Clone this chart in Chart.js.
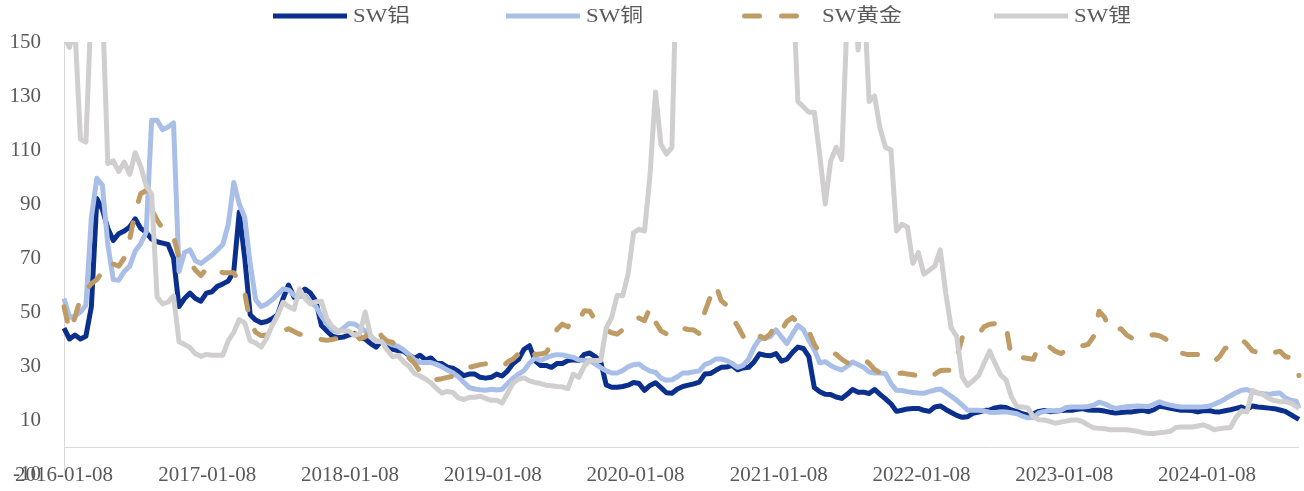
<!DOCTYPE html>
<html>
<head>
<meta charset="utf-8">
<script src="https://cdn.jsdelivr.net/npm/chart.js@4.4.1/dist/chart.umd.min.js"></script>
<style>
  html, body { margin: 0; padding: 0; background: #fff; }
  #wrap { position: relative; width: 1304px; height: 491px; overflow: hidden; }
  #chart { position: absolute; left: 0; top: 0; }
  #legend { position: absolute; left: 0; top: 0; width: 1304px; height: 32px; }
  .item { position: absolute; top: 6px; height: 20px; display: flex; align-items: center; white-space: nowrap; }
  .item svg { display: block; margin-right: 6px; }
  .item span { display: inline-block; font: 19px "Liberation Serif", "Noto Sans CJK SC", serif; color: #595959;
               line-height: 20px; transform: scaleX(1.2); transform-origin: left center; }
</style>
</head>
<body>
<div id="wrap">
  <canvas id="chart" width="1304" height="491"></canvas>
  <div id="legend"></div>
</div>
<script>
// Weekly valuation series sampled every two weeks from 2016-01-08, last point 2024-08-30
const dates = [];
for (let t = Date.UTC(2016, 0, 8); dates.length < 226; t += 14 * 864e5) {
  dates.push(new Date(t).toISOString().slice(0, 10));
}
dates.push('2024-08-30');

const seriesNames = ['SW铝', 'SW铜', 'SW黄金', 'SW锂'];

const aluminium = [
  44, 40, 41.5, 40, 41, 52, 92, 88, 81, 76.5,
  79, 80, 81.5, 84.5, 81, 79.5, 77, 76, 75.5, 75,
  70, 52, 55, 57, 55, 54, 57, 57.5, 59.5, 60.4,
  61.5, 65, 87, 70, 49, 47, 46, 46.5, 47.5, 49,
  55, 60, 55.5, 57, 58.5, 57, 54, 45, 43, 41,
  40.5, 40.7, 41.5, 42, 40.5, 40, 38.3, 37, 39.4, 37.5,
  36.2, 35.7, 35.5, 34, 32.8, 34, 32.3, 33, 31, 30.9,
  29.6, 29.2, 28, 26.4, 27, 27, 25.8, 25.5, 25.8, 27,
  26.3, 28.2, 30.9, 32.5, 36.2, 37.5, 32, 30.2, 30.2, 29.5,
  30.9, 30.9, 32, 32.3, 32, 34.3, 34.8, 33.5, 31.5, 23,
  22.1, 22.1, 22.4, 22.9, 23.9, 23.5, 21, 22.8, 23.8, 22,
  20.1, 19.9, 21.5, 22.4, 22.9, 23.4, 24, 27, 27.2, 28.4,
  29.5, 29.6, 30.2, 28.6, 29.3, 29.5, 31.5, 34.5, 34, 33.8,
  34.6, 31.8, 32.5, 35, 37, 36.5, 33.5, 22, 20.5, 19.5,
  19.4, 18.5, 18, 19.5, 21.3, 20.3, 20.3, 19.8, 21.3, 19.5,
  17.8, 16, 13.2, 13.6, 14.1, 14.3, 14.3, 13.6, 13.2, 14.8,
  15.2, 13.9, 12.8, 11.7, 11, 11.2, 12.5, 12.9, 13.5, 13.7,
  14.5, 14.8, 14.6, 13.7, 13.1, 12.3, 11.8, 12.3, 13.2, 13.5,
  13.1, 13.2, 13.5, 13.6, 13.6, 14, 14.2, 13.7, 13.6, 13.6,
  13.3, 12.9, 12.6, 12.8, 13, 13, 13.3, 13.6, 13.1, 13.8,
  15.1, 14.8, 14.3, 14, 13.6, 13.6, 13.5, 13, 13.4, 13.5,
  13.1, 13, 13.4, 13.8, 14.3, 14.8, 13.9, 15.2, 14.8, 14.6,
  14.4, 14.2, 13.7, 13.2, 12, 10.8, 10.2
];

const copper = [
  55, 48, 48.5, 50, 52.5, 85, 99.5, 97, 75, 62,
  61.8, 65, 67, 72.6, 75.3, 79.5, 121, 121, 117.5, 118.5,
  120, 65, 72, 73, 69, 68, 69.5, 71, 73, 75,
  82.5, 98, 90, 85, 67.8, 54.5, 52, 53, 54.5, 56.5,
  58.5, 58.2, 56.2, 55.7, 56, 53.7, 52, 48.5, 45.7, 43.3,
  42.6, 44, 45.7, 45.6, 44.3, 43, 41, 39.3, 39.1, 38.8,
  37.8, 37.3, 36, 34.2, 32.3, 31.3, 31.3, 31.3, 30.6, 29.7,
  28.5, 27.5, 26, 24, 22, 21.5, 21.2, 21, 21.4, 21.1,
  21.4, 23.5, 25.5, 27, 28.3, 31, 33, 32, 33, 33.8,
  34.2, 34.1, 33.6, 33.2, 32.2, 32, 32, 30.8, 29.4, 28.2,
  27.4, 27.4, 28.3, 29.7, 30.5, 30.7, 29.2, 28.1, 27.7, 25.5,
  24.7, 24.9, 26, 27.4, 27.4, 27.9, 28.2, 30.5, 31.3, 32.6,
  32.6, 32, 30.9, 29.5, 30.2, 32.5, 37, 40, 40.2, 41,
  43.4, 40.8, 38.3, 41.8, 45, 43.5, 39.5, 36, 31.2, 31.6,
  30.2, 29.2, 28.5, 29.9, 31.5, 30.5, 29.5, 27.8, 27.4, 27.4,
  27.2, 23.5, 21, 20.9, 20.5, 20.2, 20, 19.9, 20.5, 21.1,
  21.5, 20.2, 18.8, 17.3, 15.5, 13.6, 13.6, 13.6, 13.4, 12.9,
  12.8, 13, 13, 12.7, 12.3, 11.4, 10.8, 10.9, 12.6, 13.2,
  13.5, 13.3, 13.6, 14.6, 14.8, 14.8, 14.8, 15, 15.5, 16.6,
  16, 15, 14.3, 14.6, 14.9, 15.1, 15.2, 15.1, 15, 15.8,
  16.7, 16, 15.5, 15.1, 14.8, 14.8, 14.8, 14.8, 14.9, 15.1,
  15.8, 16.7, 17.8, 19, 20.1, 21, 21.3, 20.4, 20, 19.7,
  19.5, 19.8, 20, 18.2, 17.3, 17, 14.3
];

const gold = [
  52, 43, 48, 55, 58, 60.5, 62, 65, 68.5, 67.8,
  67, 70, 77, 87, 93.8, 95, 88, 84, 81, 80,
  78, 70, 69.5, 68.5, 65.5, 63.5, 66, 67, 66, 64.5,
  64.5, 64.5, 61, 57, 46, 42.5, 41.2, 41.5, 40.5, 41.5,
  43, 43.8, 42.8, 41.8, 41.8, 41.8, 40.8, 39.8, 39.5, 39.8,
  40.3, 40.5, 41.8, 42.5, 40, 40.8, 43, 44.5, 41, 39.3,
  38.7, 36.5, 34, 33, 31, 28, 26, 25, 25, 25.3,
  25.8, 26.2, 27.8, 28.8, 29.5, 30, 30.5, 30.8, 30.5, 29.9,
  29.5, 31.5, 32.6, 34.5, 36.5, 36.3, 34.3, 34.4, 34.9, 38,
  43.5, 45.5, 44.5, 47.6, 46.9, 50.5, 50.3, 47, 44.8, 43.2,
  42.3, 41.8, 43.4, 44.8, 47, 47.8, 46.8, 51.6, 46.3, 43,
  41.9, 43.5, 44.8, 44, 43.5, 43.3, 42, 50, 55.5, 60,
  54.2, 52.5, 48, 44.8, 41, 38.6, 39.8, 41.1, 40.2, 42,
  45.5, 43.2, 46.5, 48, 46, 44.5, 43, 38, 35, 34.5,
  35, 34.3, 32.5, 31.2, 31.5, 32.7, 32.7, 31, 28.7, 27.5,
  27, 26.8, 27.2, 27.4, 27, 26.8, 26.2, 25.8, 25.4, 27,
  28.3, 28.4, 28.4, 33, 40.5, 40.5, 41, 41.8, 44.5, 45.5,
  45.7, 44, 45, 33, 32.6, 33.1, 32.8, 32.5, 37.5, 38.2,
  37, 35.5, 34.6, 35.8, 37.4, 37.5, 37.5, 38, 41, 50.3,
  48, 43, 43.4, 43.8, 41.5, 40.3, 41.5, 41.8, 41.2, 41.6,
  41.2, 40.2, 38.5, 36.3, 34.8, 34.3, 34.3, 34.3, 34.2, 32.8,
  31.6, 33.5, 36.5, 37.3, 38.5, 40, 38, 35.6, 35, 34.1,
  33.8, 35, 35.5, 33.5, 33, 29, 26.5
];

const lithium = [
  152, 148, 155, 114, 113, 165, 170, 165, 105, 106,
  102, 105.5, 101, 109, 104, 96.8, 93.6, 55.5, 53, 53.7,
  56, 39, 38, 36.8, 34.5, 33.6, 34.3, 34, 34, 34,
  39.4, 42.5, 47.2, 46, 39.4, 38.5, 37, 40.3, 45, 48.8,
  53.6, 52, 51, 58.5, 55, 53, 53.8, 54, 47.5, 44.5,
  43.1, 43, 43, 41.3, 42, 50, 41, 39.2, 39, 36,
  33.4, 33.9, 31.5, 29.9, 27.2, 26.3, 25.2, 23.8, 21.7, 20,
  20.6, 20.2, 18.2, 17.6, 18.4, 18.4, 18.8, 18, 17.3, 17.3,
  16.3, 20, 23.7, 25.1, 25.6, 24.5, 23.9, 23.5, 22.9, 22.7,
  22.4, 22.3, 21.6, 27, 25.8, 30, 32, 32, 32, 44,
  48, 56.2, 56, 64, 79.4, 80.6, 80, 100.7, 131.5, 112,
  108.5, 111, 190, 200, 215, 230, 245, 260, 275, 285,
  290, 280, 270, 265, 255, 250, 240, 230, 220, 210,
  200, 195, 185, 175, 128, 126, 124, 124, 108, 90,
  106, 111, 106.5, 160, 180, 147, 170, 128, 130, 118,
  111, 110, 80, 82.5, 81.5, 68, 72, 64, 65.5, 67,
  73, 57, 44, 41, 26, 22.8, 24.6, 26.5, 31, 35.5,
  31, 26.7, 24.9, 18.5, 15, 14.8, 14.5, 11.2, 10.1, 10,
  9.5, 8.8, 9.2, 9.6, 10, 10, 9.4, 8.1, 7.1, 6.9,
  6.8, 6.4, 6.4, 6.4, 6.4, 6.1, 5.8, 5.3, 5, 5,
  5.3, 5.5, 5.8, 7.2, 7.4, 7.4, 7.4, 7.8, 8.2, 7.5,
  6.4, 6.8, 7, 7.2, 11, 13.4, 13, 21, 20, 19.4,
  18, 17.2, 16.8, 16.8, 16.3, 15, 14.3
];

const xTickLabels = ['2016-01-08', '2017-01-08', '2018-01-08', '2019-01-08', '2020-01-08',
                     '2021-01-08', '2022-01-08', '2023-01-08', '2024-01-08'];
const yTickValues = [-10, 10, 30, 50, 70, 90, 110, 130, 150];

// Styling of each line: colour and dash pattern
const styles = [
  { color: '#0B2F8C', dash: null },
  { color: '#A9BFE7', dash: null },
  { color: '#BF9C66', dash: [15, 22] },
  { color: '#D0CECE', dash: null }
];
const seriesValues = [aluminium, copper, gold, lithium];
const legendLeft = [273, 506, 742, 994];

const toPoints = vals => vals.map((v, i) => ({ x: Date.parse(dates[i]), y: v }));

const datasets = seriesValues.map((vals, k) => ({
  label: seriesNames[k],
  data: toPoints(vals),
  borderColor: styles[k].color,
  borderWidth: 5,
  borderDash: styles[k].dash || [],
  borderCapStyle: styles[k].dash ? 'round' : 'butt',
  borderJoinStyle: 'round',
  pointRadius: 0,
  pointHoverRadius: 0,
  tension: 0,
  fill: false,
  order: seriesValues.length - 1 - k,
  clip: { left: 3, right: 3, top: 0, bottom: 3 }
}));

const tickFont = { family: '"Liberation Serif", "Noto Sans CJK SC", serif', size: 21 };

new Chart(document.getElementById('chart').getContext('2d'), {
  type: 'line',
  data: { datasets },
  options: {
    responsive: false,
    animation: false,
    devicePixelRatio: 1,
    parsing: false,
    normalized: true,
    layout: { padding: { top: 42, right: 5, left: 0, bottom: 0 } },
    plugins: { legend: { display: false }, tooltip: { enabled: false } },
    events: [],
    scales: {
      x: {
        type: 'linear',
        min: Date.parse(dates[0]),
        max: Date.parse(dates[dates.length - 1]),
        afterBuildTicks: sc => { sc.ticks = xTickLabels.map(s => ({ value: Date.parse(s) })); },
        afterFit: sc => {
          sc.height = 17;
          sc.paddingLeft = 0; sc.paddingRight = 0; sc.paddingTop = 0; sc.paddingBottom = 0;
        },
        grid: { display: false, drawTicks: false },
        border: { display: false },
        ticks: {
          autoSkip: false, maxRotation: 0, minRotation: 0,
          mirror: true, padding: -14,
          color: '#595959', font: tickFont,
          callback: v => new Date(v).toISOString().slice(0, 10)
        }
      },
      y: {
        min: -10,
        max: 150,
        afterBuildTicks: sc => {
          sc.ticks = yTickValues.concat([0]).sort((a, b) => a - b).map(v => ({ value: v }));
        },
        afterFit: sc => {
          sc.width = 64;
          sc.paddingTop = 0; sc.paddingBottom = 0;
        },
        grid: {
          drawTicks: false,
          lineWidth: 1,
          color: c => (c.tick && c.tick.value === 0) ? '#D9D9D9' : 'rgba(0,0,0,0)'
        },
        border: { display: true, color: '#D9D9D9', width: 1 },
        ticks: {
          padding: 23, color: '#595959', font: tickFont,
          callback: v => (v === 0 ? '' : String(v))
        }
      }
    }
  }
});

// Legend row above the plot
const legend = document.getElementById('legend');
const svgNS = 'http://www.w3.org/2000/svg';
seriesNames.forEach((name, k) => {
  const item = document.createElement('div');
  item.className = 'item';
  item.style.left = legendLeft[k] + 'px';
  const svg = document.createElementNS(svgNS, 'svg');
  svg.setAttribute('width', '74');
  svg.setAttribute('height', '10');
  const line = document.createElementNS(svgNS, 'line');
  line.setAttribute('x1', styles[k].dash ? '2.5' : '0');
  line.setAttribute('x2', '74');
  line.setAttribute('y1', '5');
  line.setAttribute('y2', '5');
  line.setAttribute('stroke', styles[k].color);
  line.setAttribute('stroke-width', '5');
  if (styles[k].dash) {
    line.setAttribute('stroke-dasharray', styles[k].dash.join(' '));
    line.setAttribute('stroke-linecap', 'round');
  }
  svg.appendChild(line);
  const label = document.createElement('span');
  label.textContent = name;
  item.appendChild(svg);
  item.appendChild(label);
  legend.appendChild(item);
});
</script>
</body>
</html>
